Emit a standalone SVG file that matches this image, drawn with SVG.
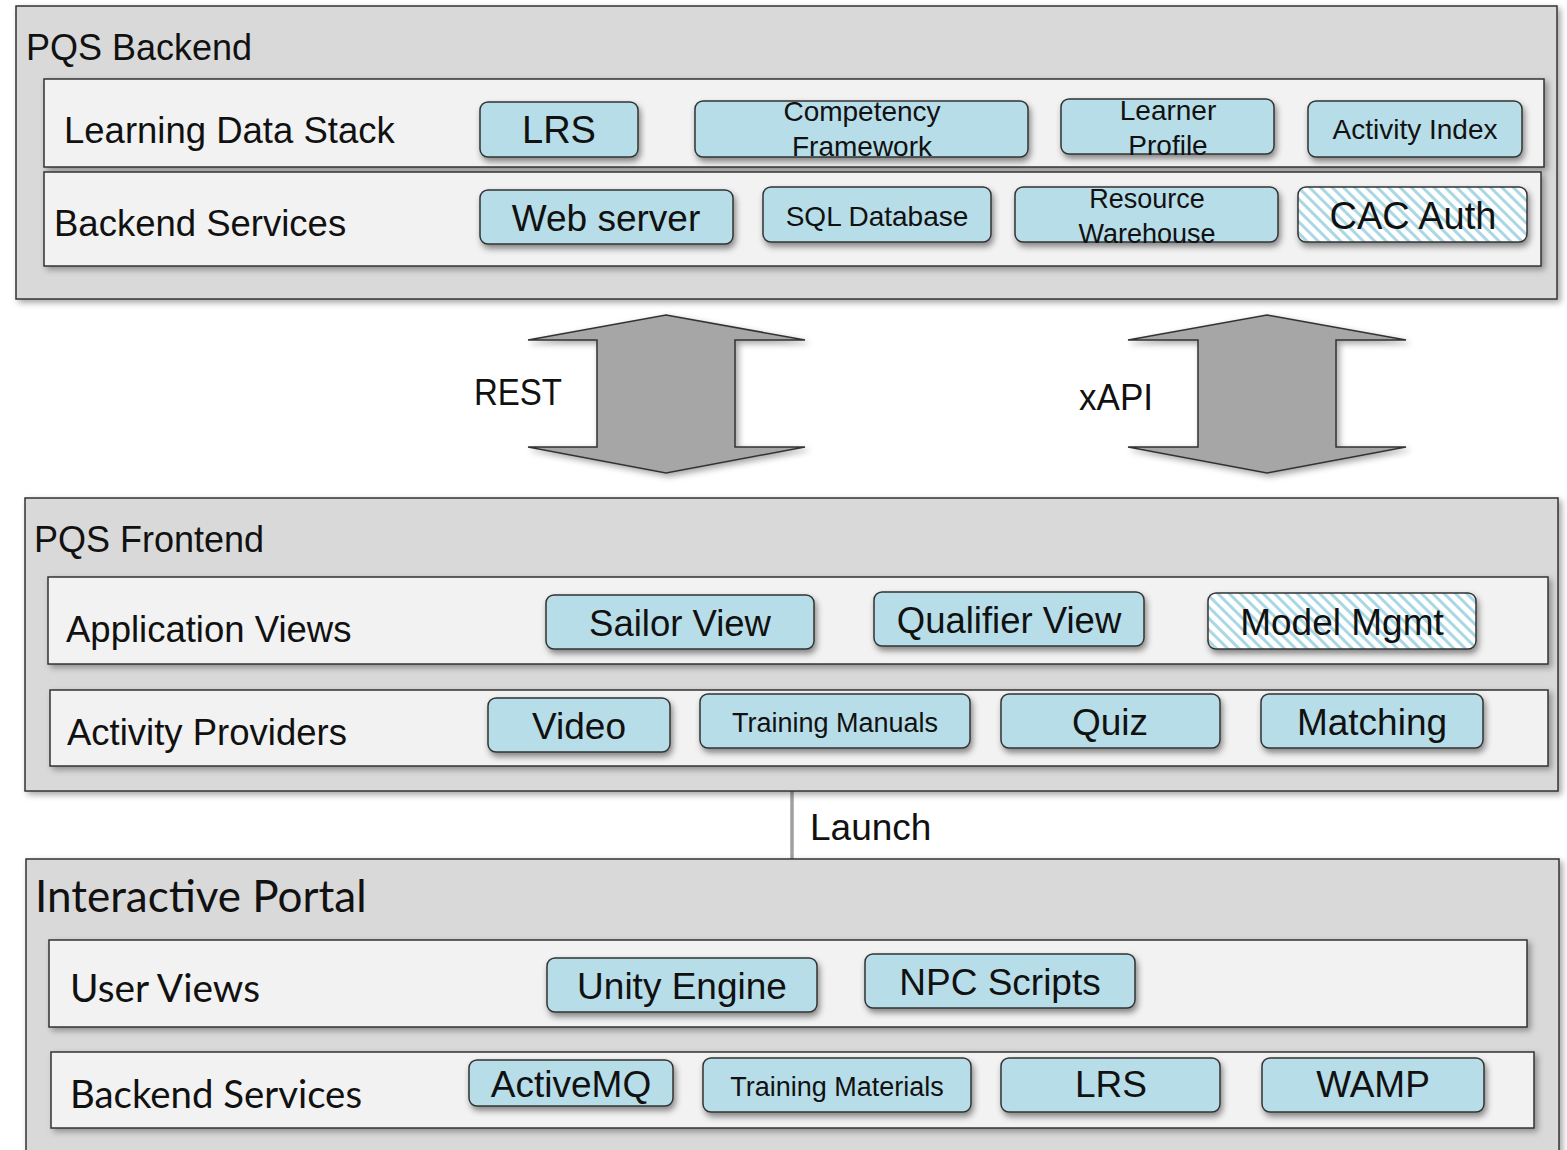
<svg xmlns="http://www.w3.org/2000/svg" width="1567" height="1150" viewBox="0 0 1567 1150">
<defs>
<filter id="sh" x="-5%" y="-20%" width="110%" height="150%"><feDropShadow dx="2" dy="4" stdDeviation="3" flood-color="#000" flood-opacity="0.45"/></filter>
<filter id="sh2" x="-5%" y="-20%" width="110%" height="150%"><feDropShadow dx="3" dy="3" stdDeviation="3" flood-color="#000" flood-opacity="0.35"/></filter>
<pattern id="hatch" width="8" height="8" patternUnits="userSpaceOnUse" patternTransform="rotate(-45)">
<rect width="8" height="8" fill="#ffffff"/><rect x="0" y="0" width="3" height="8" fill="#a9d7e4"/>
</pattern>
<style>
.panel{fill:#d9d9d9;stroke:#333;stroke-width:1.5}
.row{fill:#f2f2f2;stroke:#333;stroke-width:1.5}
.box{fill:#b7dde8;stroke:#333;stroke-width:1.5}
.hbox{fill:url(#hatch);stroke:#333;stroke-width:1.5}
.arr{fill:#a6a6a6;stroke:#333;stroke-width:1.5}
text{font-family:"Liberation Sans",Arial,sans-serif;fill:#111}
.cal{font-family:Lato,"Open Sans",sans-serif}
.c{text-anchor:middle}
</style>
</defs>
<rect width="1567" height="1150" fill="#ffffff"/>

<g id="pqs-backend">
<rect class="panel" x="16" y="6" width="1541" height="293" filter="url(#sh2)"/>
<text x="26" y="60" font-size="36">PQS Backend</text>
<g id="learning-data-stack">
<rect class="row" x="44" y="79" width="1500" height="88" filter="url(#sh2)"/>
<text x="64" y="143" font-size="36.5">Learning Data Stack</text>
<g id="lrs1"><rect class="box" x="480" y="102" width="158" height="55" rx="8" filter="url(#sh)"/><text class="c" x="559" y="143" font-size="38">LRS</text></g>
<g id="competency"><rect class="box" x="695" y="101" width="333" height="56" rx="8" filter="url(#sh)"/><text class="c" x="862" y="121" font-size="28">Competency</text><text class="c" x="862" y="156" font-size="28">Framework</text></g>
<g id="learner"><rect class="box" x="1061" y="99" width="213" height="55" rx="8" filter="url(#sh)"/><text class="c" x="1168" y="120" font-size="28">Learner</text><text class="c" x="1168" y="155" font-size="28">Profile</text></g>
<g id="activity-index"><rect class="box" x="1308" y="101" width="214" height="56" rx="8" filter="url(#sh)"/><text class="c" x="1415" y="139" font-size="28">Activity Index</text></g>
</g>
<g id="backend-services-1">
<rect class="row" x="44" y="172" width="1497" height="94" filter="url(#sh2)"/>
<text x="54" y="236" font-size="36.5">Backend Services</text>
<g id="web-server"><rect class="box" x="480" y="190" width="253" height="54" rx="8" filter="url(#sh)"/><text class="c" x="606" y="231" font-size="37">Web server</text></g>
<g id="sql"><rect class="box" x="763" y="187" width="228" height="55" rx="8" filter="url(#sh)"/><text class="c" x="877" y="226" font-size="28">SQL Database</text></g>
<g id="resource"><rect class="box" x="1015" y="187" width="263" height="55" rx="8" filter="url(#sh)"/><text class="c" x="1147" y="208" font-size="27">Resource</text><text class="c" x="1147" y="243" font-size="27">Warehouse</text></g>
<g id="cac"><rect class="hbox" x="1298" y="187" width="229" height="55" rx="8" filter="url(#sh)"/><text class="c" x="1413" y="229" font-size="38">CAC Auth</text></g>
</g>
</g>

<g id="connectors">
<g id="rest-arrow"><path class="arr" d="M666,315 L805,340 L735,340 L735,447 L805,447 L666,473 L528,447 L597,447 L597,340 L528,340 Z" filter="url(#sh2)"/><text x="474" y="405" font-size="36" textLength="88" lengthAdjust="spacingAndGlyphs">REST</text></g>
<g id="xapi-arrow"><path class="arr" d="M1267,315 L1406,340 L1336,340 L1336,447 L1406,447 L1267,473 L1128,447 L1198,447 L1198,340 L1128,340 Z" filter="url(#sh2)"/><text x="1079" y="410" font-size="36" textLength="74" lengthAdjust="spacingAndGlyphs">xAPI</text></g>
<g id="launch"><line x1="792" y1="791" x2="792" y2="859" stroke="#a0a0a0" stroke-width="3.5"/><text x="810" y="840" font-size="37">Launch</text></g>
</g>

<g id="pqs-frontend">
<rect class="panel" x="25" y="498" width="1533" height="293" filter="url(#sh2)"/>
<text x="34" y="552" font-size="36">PQS Frontend</text>
<g id="application-views">
<rect class="row" x="48" y="577" width="1500" height="87" filter="url(#sh2)"/>
<text x="66" y="642" font-size="36.5">Application Views</text>
<g id="sailor"><rect class="box" x="546" y="595" width="268" height="54" rx="8" filter="url(#sh)"/><text class="c" x="680" y="636" font-size="36.5">Sailor View</text></g>
<g id="qualifier"><rect class="box" x="874" y="592" width="270" height="54" rx="8" filter="url(#sh)"/><text class="c" x="1009" y="633" font-size="36.5">Qualifier View</text></g>
<g id="model-mgmt"><rect class="hbox" x="1208" y="593" width="268" height="56" rx="8" filter="url(#sh)"/><text class="c" x="1342" y="635" font-size="37">Model Mgmt</text></g>
</g>
<g id="activity-providers">
<rect class="row" x="50" y="690" width="1498" height="76" filter="url(#sh2)"/>
<text x="67" y="745" font-size="36.5">Activity Providers</text>
<g id="video"><rect class="box" x="488" y="698" width="182" height="54" rx="8" filter="url(#sh)"/><text class="c" x="579" y="739" font-size="37">Video</text></g>
<g id="training-manuals"><rect class="box" x="700" y="694" width="270" height="54" rx="8" filter="url(#sh)"/><text class="c" x="835" y="732" font-size="27">Training Manuals</text></g>
<g id="quiz"><rect class="box" x="1001" y="694" width="219" height="54" rx="8" filter="url(#sh)"/><text class="c" x="1110" y="735" font-size="37">Quiz</text></g>
<g id="matching"><rect class="box" x="1261" y="694" width="222" height="54" rx="8" filter="url(#sh)"/><text class="c" x="1372" y="735" font-size="37">Matching</text></g>
</g>
</g>

<g id="interactive-portal">
<rect class="panel" x="26" y="859" width="1533" height="300" filter="url(#sh2)"/>
<text class="cal" x="35" y="912" font-size="44">Interactive Portal</text>
<g id="user-views">
<rect class="row" x="49" y="940" width="1478" height="87" filter="url(#sh2)"/>
<text class="cal" x="70" y="1002" font-size="38" textLength="190" lengthAdjust="spacingAndGlyphs">User Views</text>
<g id="unity"><rect class="box" x="547" y="958" width="270" height="54" rx="8" filter="url(#sh)"/><text class="c" x="682" y="999" font-size="37">Unity Engine</text></g>
<g id="npc"><rect class="box" x="865" y="954" width="270" height="54" rx="8" filter="url(#sh)"/><text class="c" x="1000" y="995" font-size="37">NPC Scripts</text></g>
</g>
<g id="backend-services-2">
<rect class="row" x="51" y="1052" width="1483" height="76" filter="url(#sh2)"/>
<text class="cal" x="70" y="1108" font-size="38" textLength="292" lengthAdjust="spacingAndGlyphs">Backend Services</text>
<g id="activemq"><rect class="box" x="469" y="1060" width="204" height="46" rx="8" filter="url(#sh)"/><text class="c" x="571" y="1097" font-size="37">ActiveMQ</text></g>
<g id="training-materials"><rect class="box" x="703" y="1058" width="268" height="54" rx="8" filter="url(#sh)"/><text class="c" x="837" y="1096" font-size="27">Training Materials</text></g>
<g id="lrs2"><rect class="box" x="1001" y="1058" width="219" height="54" rx="8" filter="url(#sh)"/><text class="c" x="1111" y="1097" font-size="37">LRS</text></g>
<g id="wamp"><rect class="box" x="1262" y="1058" width="222" height="54" rx="8" filter="url(#sh)"/><text class="c" x="1373" y="1097" font-size="37">WAMP</text></g>
</g>
</g>
</svg>
